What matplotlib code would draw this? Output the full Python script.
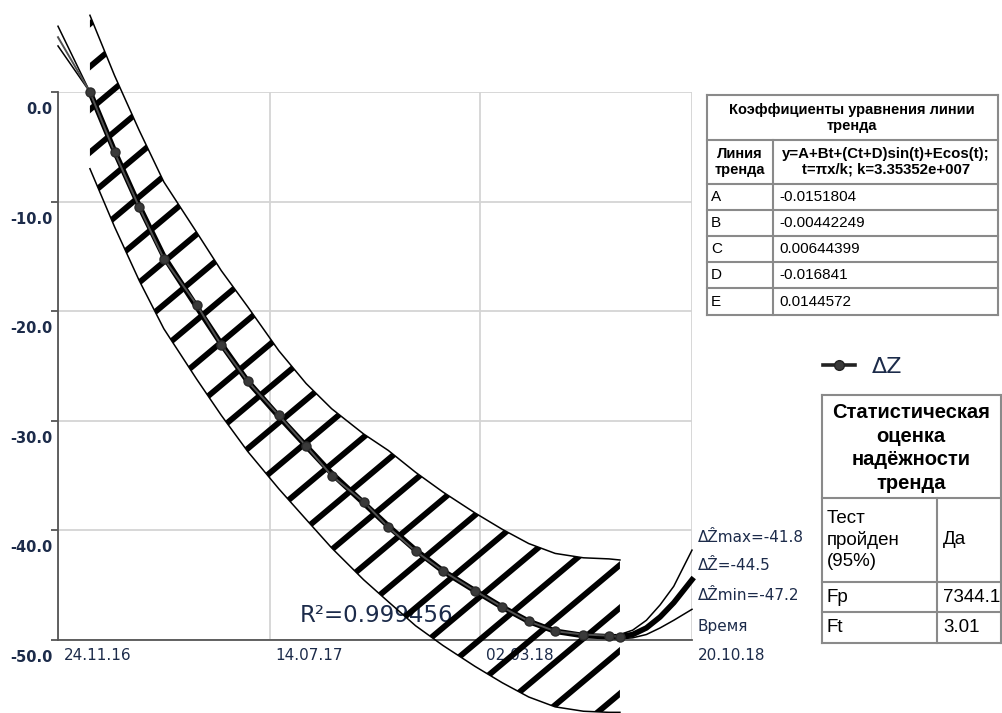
import numpy as np
import matplotlib
matplotlib.use('Agg')
import matplotlib.pyplot as plt
import matplotlib.transforms as mtransforms
from matplotlib.patches import Polygon
from matplotlib.lines import Line2D

# x = days since 24.11.16
x_ticks = [0, 232, 463, 695]
x_labels = ['24.11.16', '14.07.17', '02.03.18', '20.10.18']
y_ticks = [0, -10, -20, -30, -40, -50]
y_labels = ['0.0', '-10.0', '-20.0', '-30.0', '-40.0', '-50.0']

# measured ΔZ
dz_days = [0, 35, 62, 89, 116, 152, 179, 208, 242, 272, 300, 335, 362, 392, 422,
           457, 487, 516, 545, 576, 604, 616]
dz_vals = [5.0, 0.0, -5.5, -10.5, -15.2, -19.4, -23.1, -26.4, -29.5, -32.3, -35.0,
           -37.4, -39.7, -41.9, -43.7, -45.5, -47.0, -48.3, -49.2, -49.5, -49.6, -49.7]

# trend line
trend_days = [35, 62, 89, 116, 152, 179, 208, 242, 272, 300, 335, 362, 392, 422, 457,
              487, 516, 545, 576, 604, 616, 630, 645, 660, 675, 695]
trend_vals = [0.0, -5.4, -10.4, -15.0, -19.6, -23.0, -26.4, -29.6, -32.3, -34.8, -37.5,
              -39.6, -41.8, -43.7, -45.5, -47.0, -48.3, -49.2, -49.6, -49.7, -49.7,
              -49.5, -48.9, -47.9, -46.6, -44.5]

# forecast limits (they sit on the trend line in the middle)
zlim_days = [0, 35, 62, 89, 116, 152, 179, 208, 242, 272, 300, 335, 362, 392, 422,
             457, 487, 516, 545, 576, 604, 616, 630, 645, 660, 675, 695]
zmax_vals = [6.0, 0.0, -5.4, -10.4, -15.0, -19.6, -23.0, -26.4, -29.6, -32.3, -34.8,
             -37.5, -39.6, -41.8, -43.7, -45.5, -47.0, -48.3, -49.2, -49.6, -49.6,
             -49.5, -49.1, -48.2, -46.8, -45.1, -41.8]
zmin_vals = [4.2, 0.0, -5.4, -10.4, -15.0, -19.6, -23.0, -26.4, -29.6, -32.3, -34.8,
             -37.5, -39.6, -41.8, -43.7, -45.5, -47.0, -48.3, -49.2, -49.6, -49.8,
             -49.9, -49.8, -49.5, -48.9, -48.2, -47.2]

# hatched band
band_days = [35, 62, 89, 116, 152, 179, 208, 242, 272, 300, 335, 362, 392, 422, 457,
             487, 516, 545, 576, 604, 616]
band_upper = [7.0, 1.5, -3.5, -8.2, -12.8, -16.3, -19.6, -23.6, -26.6, -28.9, -31.2,
              -32.7, -34.7, -36.5, -38.4, -39.9, -41.2, -42.1, -42.5, -42.6, -42.7]
band_lower = [-7.0, -12.3, -17.2, -21.6, -26.2, -29.5, -32.8, -36.2, -39.0, -41.6, -44.5,
              -46.5, -48.7, -50.5, -52.4, -53.9, -55.2, -56.1, -56.5, -56.6, -56.6]

r2 = 0.999456
side_labels = ['ΔẐmax=%.1f' % zmax_vals[-1], 'ΔẐ=%.1f' % trend_vals[-1],
               'ΔẐmin=%.1f' % zmin_vals[-1], 'Время']

coef_names = ['A', 'B', 'C', 'D', 'E']
coef_vals = ['-0.0151804', '-0.00442249', '0.00644399', '-0.016841', '0.0144572']
stat_names = ['Тест\nпройден\n(95%)', 'Fp', 'Ft']
stat_vals = ['Да', '7344.1', '3.01']

W, H = 1003, 713
txt = '#1c2b4a'
fig = plt.figure(figsize=(W / 100, H / 100), dpi=100)
ax = fig.add_axes([58 / W, 1 - 640 / H, (692 - 58) / W, (640 - 92) / H])
ax.set_xlim(0, 695)
ax.set_ylim(-50, 0)

for s in ['top', 'right']:
    ax.spines[s].set_visible(False)
for s in ['left', 'bottom']:
    ax.spines[s].set_color('#555555')
    ax.spines[s].set_linewidth(1.3)
ax.grid(True, color='#d4d4d4', lw=1.3)
ax.set_axisbelow(True)

ax.set_yticks(y_ticks, y_labels, fontsize=10.5, fontweight='bold', color=txt)
ax.set_xticks(x_ticks, x_labels, fontsize=11, color=txt, ha='left')
ax.tick_params(axis='y', length=5, width=1.3, color='#555555', pad=-1)
ax.tick_params(axis='x', length=0, pad=6)
dy = mtransforms.ScaledTranslation(0, -0.16, fig.dpi_scale_trans)
for lab in ax.get_yticklabels():
    lab.set_transform(lab.get_transform() + dy)
dx = mtransforms.ScaledTranslation(0.06, 0, fig.dpi_scale_trans)
for lab in ax.get_xticklabels():
    lab.set_transform(lab.get_transform() + dx)

# band with thick hatching
poly = Polygon(np.column_stack([band_days + band_days[::-1],
                                band_upper + band_lower[::-1]]),
               closed=True, transform=ax.transData)
slope = np.tan(np.radians(40)) * (634 / 695) / (548 / 50)
for c in np.arange(574 - 56 * 24, 800, 56):
    hx = np.array([c - 150, c + 900])
    hl, = ax.plot(hx, -50 + slope * (hx - c), color='black', lw=4.2,
                  solid_capstyle='butt', zorder=3)
    hl.set_clip_path(poly)
    hl.set_clip_box(None)
ax.plot(band_days, band_upper, color='black', lw=1.1, clip_on=False, zorder=3)
ax.plot(band_days, band_lower, color='black', lw=1.1, clip_on=False, zorder=3)

ax.plot(zlim_days, zmax_vals, color='black', lw=1.1, clip_on=False, zorder=4)
ax.plot(zlim_days, zmin_vals, color='black', lw=1.1, clip_on=False, zorder=4)
ax.plot(trend_days, trend_vals, color='black', lw=4.0, clip_on=False, zorder=4)
ax.plot(dz_days, dz_vals, color='#505050', lw=1.4, marker='o', ms=6.5,
        mfc='#3a3a3a', mec='#2a2a2a', markevery=list(range(1, len(dz_days))),
        clip_on=False, zorder=5)

ax.text(265, -47.8, 'R²=%g' % r2, fontsize=16.5, color=txt, va='center', zorder=2)

for lab, yp in zip(side_labels, [537, 566, 596, 627]):
    ax.text(1 + 6 / 634, (640 - yp) / 548, lab, transform=ax.transAxes,
            fontsize=11, color=txt, va='center', ha='left')

handle = Line2D([], [], color='#222222', lw=2.6, marker='o', ms=7, mfc='#3a3a3a')
ax.legend([handle], ['ΔZ'], loc='center left', bbox_to_anchor=(823 / W, 1 - 367 / H),
          bbox_transform=fig.transFigure, frameon=False, borderpad=0, borderaxespad=0,
          handlelength=1.45, handletextpad=0.75, prop={'size': 16}, labelcolor=txt)

# tables drawn in pixel space
tb = fig.add_axes([0, 0, 1, 1])
tb.set_xlim(0, W)
tb.set_ylim(H, 0)
tb.axis('off')
gc = '#8a8a8a'
tfont = 'Liberation Sans'

rows1 = [95, 140, 184, 210, 236, 262, 288, 315]
for yv in rows1:
    tb.plot([707, 998], [yv, yv], color=gc, lw=1.5)
tb.plot([707, 707], [95, 315], color=gc, lw=1.5)
tb.plot([998, 998], [95, 315], color=gc, lw=1.5)
tb.plot([773, 773], [140, 315], color=gc, lw=1.5)
tb.text(852, 118, 'Коэффициенты уравнения линии\nтренда', ha='center', va='center',
        fontsize=10.5, fontweight='bold', family=tfont, linespacing=1.1)
tb.text(740, 162, 'Линия\nтренда', ha='center', va='center', fontsize=10.5,
        fontweight='bold', family=tfont, linespacing=1.1)
tb.text(886, 162, 'y=A+Bt+(Ct+D)sin(t)+Ecos(t);\nt=πx/k; k=3.35352e+007', ha='center',
        va='center', fontsize=10.8, fontweight='bold', family=tfont, linespacing=1.1)
for i, (n, v) in enumerate(zip(coef_names, coef_vals)):
    yc = (rows1[i + 2] + rows1[i + 3]) / 2
    tb.text(711, yc, n, va='center', fontsize=11, family=tfont)
    tb.text(779, yc, v, va='center', fontsize=11, family=tfont)

rows2 = [395, 498, 582, 612, 643]
for yv in rows2:
    tb.plot([822, 1001], [yv, yv], color=gc, lw=1.5)
tb.plot([822, 822], [395, 643], color=gc, lw=1.5)
tb.plot([1001, 1001], [395, 643], color=gc, lw=1.5)
tb.plot([937, 937], [498, 643], color=gc, lw=1.5)
tb.text(911, 448, 'Статистическая\nоценка\nнадёжности\nтренда', ha='center',
        va='center', fontsize=14.5, fontweight='bold', family=tfont, linespacing=1.3)
for i, (n, v) in enumerate(zip(stat_names, stat_vals)):
    yc = (rows2[i + 1] + rows2[i + 2]) / 2
    tb.text(827, yc, n, va='center', fontsize=13.5, family=tfont, linespacing=1.3)
    tb.text(943, yc, v, va='center', fontsize=13.5, family=tfont)

fig.savefig('out.png', dpi=100)
